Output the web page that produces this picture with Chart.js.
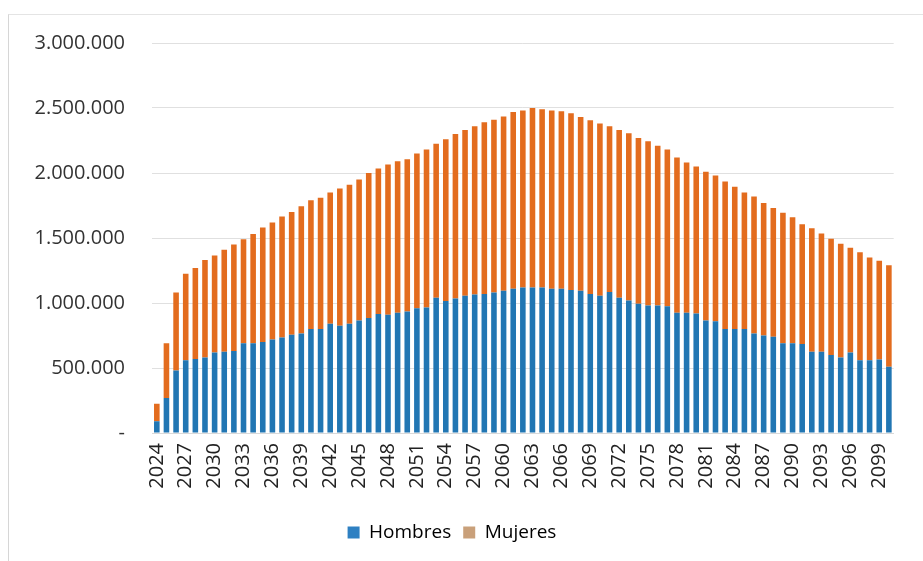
<!DOCTYPE html>
<html>
<head>
<meta charset="utf-8">
<script src="https://cdn.jsdelivr.net/npm/chart.js@4/dist/chart.umd.min.js"></script>
<style>
  body { margin: 0; background: #fff; }
  #wrap { position: relative; width: 923px; height: 561px; }
  #frame { position: absolute; left: 8px; top: 14px; width: 940px; height: 600px; border-left: 1px solid #d6d6d6; border-top: 1px solid #e4e4e4; }
  canvas { position: absolute; left: 0; top: 0; }
</style>
</head>
<body>
<div id="wrap">
  <div id="frame"></div>
  <canvas id="poblacion" width="923" height="561"></canvas>
</div>
<script>
const years = [];
for (let y = 2024; y <= 2100; y++) years.push(String(y));

const hombres = [
  90000, 270000, 480000, 560000, 570000, 580000, 620000, 625000, 630000, 690000, 690000, 700000, 720000, 735000, 755000, 765000,
  800000, 800000, 840000, 825000, 840000, 865000, 885000, 915000, 910000, 925000, 935000, 960000, 965000, 1040000, 1015000,
  1035000, 1055000, 1065000, 1070000, 1080000, 1095000, 1110000, 1120000, 1120000, 1120000, 1110000, 1110000, 1100000, 1095000, 1070000,
  1055000, 1085000, 1040000, 1020000, 995000, 980000, 980000, 975000, 925000, 925000, 920000, 865000, 860000, 800000, 800000, 800000,
  765000, 750000, 740000, 690000, 690000, 685000, 625000, 625000, 600000, 580000, 620000, 560000, 560000, 565000, 510000
];
const mujeres = [
  135000, 420000, 600000, 665000, 700000, 750000, 745000, 785000, 820000, 800000, 840000, 880000, 900000, 930000, 945000, 980000,
  990000, 1010000, 1010000, 1055000, 1070000, 1085000, 1115000, 1120000, 1155000, 1165000, 1170000, 1190000, 1215000, 1185000, 1245000,
  1265000, 1275000, 1295000, 1320000, 1330000, 1340000, 1360000, 1360000, 1380000, 1370000, 1370000, 1365000, 1360000, 1335000, 1335000,
  1325000, 1275000, 1290000, 1285000, 1275000, 1265000, 1230000, 1205000, 1195000, 1155000, 1130000, 1145000, 1120000, 1135000, 1095000, 1050000,
  1055000, 1020000, 990000, 1005000, 970000, 920000, 950000, 910000, 895000, 875000, 805000, 830000, 790000, 760000, 780000
];
const yTicks = [0, 500000, 1000000, 1500000, 2000000, 2500000, 3000000];

const azul = '#2176b3';
const naranja = '#e36c1e';
const swatch = { Hombres: '#2e80c2', Mujeres: '#c9a07a' };

function puntos(v) {
  if (v === 0) return '-';
  return String(v).replace(/\B(?=(\d{3})+(?!\d))/g, '.');
}

const chart = new Chart(document.getElementById('poblacion'), {
  type: 'bar',
  data: {
    labels: years,
    datasets: [
      { label: 'Hombres', data: hombres, backgroundColor: azul, stack: 's1', categoryPercentage: 1, barPercentage: 0.58 },
      { label: 'Mujeres', data: mujeres, backgroundColor: naranja, stack: 's1', categoryPercentage: 1, barPercentage: 0.58 }
    ]
  },
  options: {
    responsive: false,
    animation: false,
    layout: { padding: { top: 43, right: 19, left: 0, bottom: 9 } },
    plugins: {
      title: { display: false },
      tooltip: { enabled: false },
      legend: {
        position: 'bottom',
        labels: {
          boxWidth: 12, boxHeight: 12, padding: 12,
          font: { family: 'Open Sans', size: 19 }, color: '#333',
          generateLabels: c => c.data.datasets.map((d, i) => ({
            text: d.label, fillStyle: swatch[d.label], strokeStyle: swatch[d.label],
            lineWidth: 0, datasetIndex: i, hidden: false
          }))
        }
      }
    },
    scales: {
      x: {
        stacked: true,
        grid: { display: false, drawTicks: false },
        border: { color: '#d9d9d9' },
        afterFit: s => { s.height = 78; },
        ticks: {
          autoSkip: false, minRotation: 90, maxRotation: 90, padding: 10,
          font: { family: 'Open Sans', size: 20 }, color: '#222',
          callback: function (v, i) { return i % 3 === 0 ? this.getLabelForValue(v) : ''; }
        }
      },
      y: {
        stacked: true,
        min: 0, max: 3000000,
        afterBuildTicks: s => { s.ticks = yTicks.map(v => ({ value: v })); },
        afterFit: s => { s.width = 152; },
        grid: { color: '#e0e0e0', drawTicks: false },
        border: { display: false },
        ticks: {
          padding: 27,
          font: { family: 'Open Sans', size: 20 }, color: '#333',
          callback: v => puntos(v)
        }
      }
    }
  }
});
</script>
</body>
</html>
